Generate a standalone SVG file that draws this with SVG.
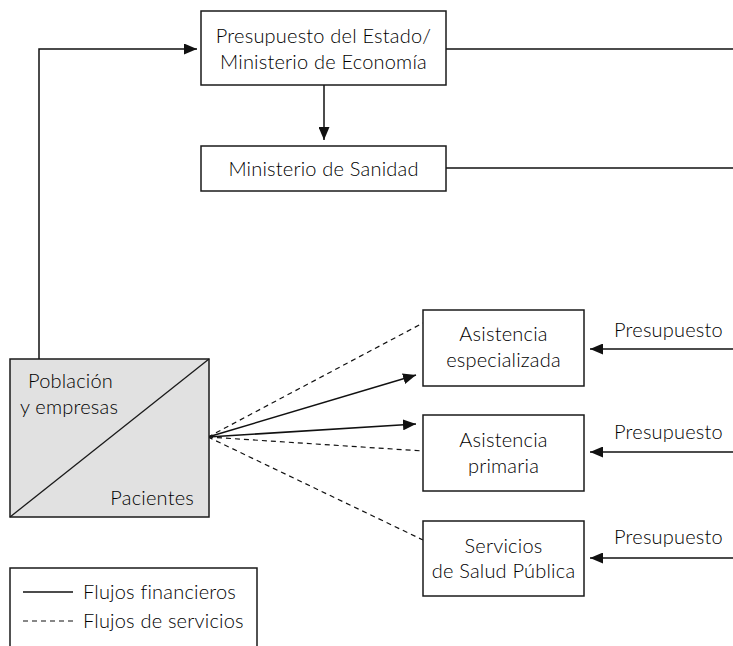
<svg xmlns="http://www.w3.org/2000/svg" width="733" height="646" viewBox="0 0 733 646">
  <style>
    .box { fill: #ffffff; stroke: #1a1a1a; stroke-width: 1.5; }
    .gray { fill: #e1e1e1; stroke: #1a1a1a; stroke-width: 1.5; }
    .lbl { font-family: Lato, "Open Sans", sans-serif; font-weight: 300; font-size: 20px; letter-spacing: 0.2px; fill: #000; }
    .mid { text-anchor: middle; }
    .solid { fill: none; stroke: #111; stroke-width: 1.5; }
    .dash { fill: none; stroke: #111; stroke-width: 1.2; stroke-dasharray: 5 4; }
  </style>
  <defs>
    <marker id="arrow" viewBox="0 0 13 11" refX="13" refY="5.5" markerWidth="13" markerHeight="11" markerUnits="userSpaceOnUse" orient="auto">
      <path d="M0,0 L13,5.5 L0,11 Z" fill="#111"/>
    </marker>
  </defs>

  <g id="connectors">
    <!-- tax contributions up to the state budget -->
    <polyline class="solid" points="39,359 39,49 197,49" marker-end="url(#arrow)"/>
    <line class="solid" x1="324" y1="85" x2="324" y2="140" marker-end="url(#arrow)"/>
    <line class="solid" x1="446" y1="49" x2="733" y2="49"/>
    <line class="solid" x1="446" y1="168" x2="733" y2="168"/>
    <!-- budgets into each service -->
    <line class="solid" x1="733" y1="349" x2="590" y2="349" marker-end="url(#arrow)"/>
    <line class="solid" x1="733" y1="452" x2="590" y2="452" marker-end="url(#arrow)"/>
    <line class="solid" x1="733" y1="558" x2="590" y2="558" marker-end="url(#arrow)"/>
    <!-- financial flows from patients -->
    <line class="solid" x1="208" y1="437" x2="416" y2="375" marker-end="url(#arrow)"/>
    <line class="solid" x1="208" y1="437" x2="416" y2="424" marker-end="url(#arrow)"/>
    <!-- service flows -->
    <line class="dash" x1="208" y1="437" x2="423" y2="323"/>
    <line class="dash" x1="208" y1="437" x2="423" y2="451"/>
    <line class="dash" x1="208" y1="437" x2="423" y2="540"/>
  </g>

  <g id="presupuesto-estado">
    <rect class="box" x="201" y="11" width="245" height="74"/>
    <text class="lbl mid" x="323.5" y="43">Presupuesto del Estado/</text>
    <text class="lbl mid" x="323.5" y="69">Ministerio de Economía</text>
  </g>

  <g id="ministerio-sanidad">
    <rect class="box" x="201" y="146" width="245" height="45"/>
    <text class="lbl mid" x="323.5" y="176">Ministerio de Sanidad</text>
  </g>

  <g id="poblacion">
    <rect class="gray" x="10" y="359" width="199" height="158"/>
    <line x1="10" y1="517" x2="209" y2="359" stroke="#1a1a1a" stroke-width="1.3"/>
    <text class="lbl" x="28" y="388">Población</text>
    <text class="lbl" x="20" y="414">y empresas</text>
    <text class="lbl" x="194" y="505" text-anchor="end">Pacientes</text>
  </g>

  <g id="asistencia-especializada">
    <rect class="box" x="423" y="310" width="161" height="76"/>
    <text class="lbl mid" x="503.5" y="341">Asistencia</text>
    <text class="lbl mid" x="503.5" y="367">especializada</text>
  </g>

  <g id="asistencia-primaria">
    <rect class="box" x="423" y="415" width="161" height="76"/>
    <text class="lbl mid" x="503.5" y="447">Asistencia</text>
    <text class="lbl mid" x="503.5" y="473">primaria</text>
  </g>

  <g id="salud-publica">
    <rect class="box" x="423" y="521" width="161" height="75"/>
    <text class="lbl mid" x="503.5" y="553">Servicios</text>
    <text class="lbl mid" x="503.5" y="578">de Salud Pública</text>
  </g>

  <g id="presupuesto-labels">
    <text class="lbl" x="614" y="337">Presupuesto</text>
    <text class="lbl" x="614" y="439">Presupuesto</text>
    <text class="lbl" x="614" y="544">Presupuesto</text>
  </g>

  <g id="legend">
    <polyline class="box" points="10,646 10,568 257,568 257,646"/>
    <line class="solid" x1="23" y1="592" x2="73" y2="592"/>
    <text class="lbl" x="83" y="599">Flujos financieros</text>
    <line class="dash" x1="23" y1="621" x2="73" y2="621"/>
    <text class="lbl" x="83" y="628">Flujos de servicios</text>
  </g>
</svg>
